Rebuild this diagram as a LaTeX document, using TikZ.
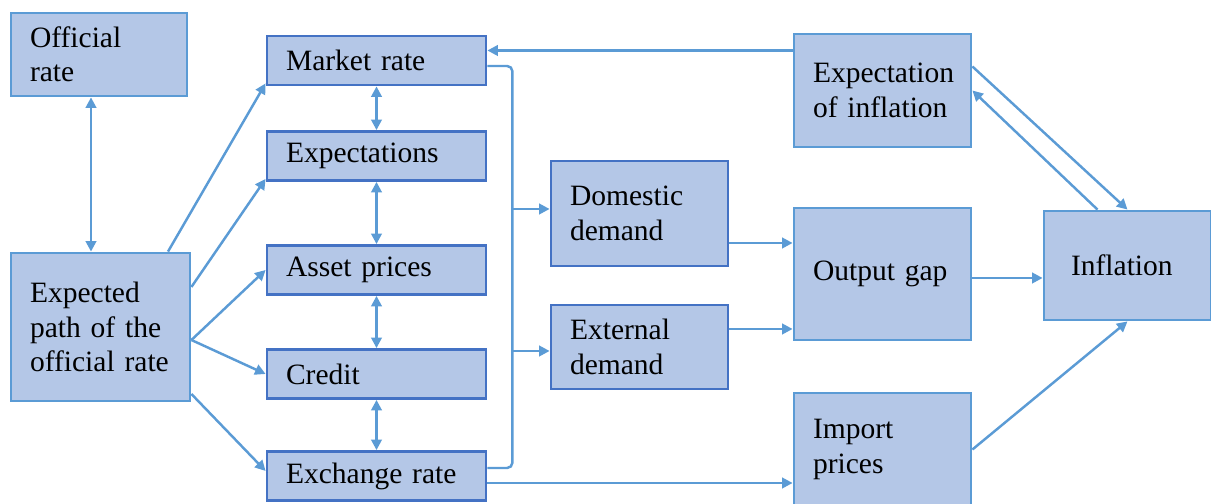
\documentclass[tikz,border=0pt]{standalone}
\usepackage{fontspec}
\setmainfont{Liberation Serif}
\usepackage{tikz}
\usetikzlibrary{arrows.meta,positioning,calc}
\definecolor{mpfill}{RGB}{180,199,231}
\definecolor{mpdark}{RGB}{68,114,196}
\definecolor{mplight}{RGB}{91,155,213}
\tikzstyle{arrow} = [line width=1.4pt,-{Triangle[length=6pt,width=6pt]},color=mplight]
\tikzstyle{dblarrow} = [line width=1.4pt,{Triangle[length=6pt,width=6pt]}-{Triangle[length=6pt,width=6pt]},color=mplight]
\tikzstyle{link} = [line width=1.4pt,color=mplight]
\tikzstyle{chbox} = [rectangle, draw=mplight, fill=mpfill, line width=1.6pt, align=left, inner xsep=0.38cm, inner ysep=0pt, font=\fontsize{16.8}{19.6}\selectfont]
\tikzstyle{chboxd} = [chbox, draw=mpdark]

\begin{document}
\begin{tikzpicture}
\useasboundingbox (0,0) rectangle (24.22,10.08);

% Policy rate
\node[chbox, text width=2.76cm, minimum height=1.66cm] (offrate) at (1.98,8.99) {Official\\rate};
\node[chbox, text width=2.82cm, minimum height=2.96cm] (exppath) at (2.01,3.54) {Expected\\path of the\\official rate};

% Channels
\node[chboxd, text width=3.62cm, minimum height=0.98cm] (market) at (7.53,8.87) {Market rate};
\node[chboxd, text width=3.62cm, minimum height=0.98cm] (expect) at (7.53,6.96) {Expectations};
\node[chboxd, text width=3.62cm, minimum height=0.98cm] (asset) at (7.53,4.68) {Asset prices};
\node[chboxd, text width=3.62cm, minimum height=0.98cm] (credit) at (7.53,2.60) {Credit};
\node[chboxd, text width=3.62cm, minimum height=0.98cm] (exch) at (7.53,0.56) {Exchange rate};

% Demand
\node[chboxd, text width=2.78cm, minimum height=2.10cm] (domestic) at (12.79,5.81) {Domestic\\demand};
\node[chboxd, text width=2.78cm, minimum height=1.68cm] (external) at (12.79,3.14) {External\\demand};

% Prices
\node[chbox, text width=2.78cm, minimum height=2.26cm] (expinf) at (17.65,8.27) {Expectation\\of inflation};
\node[chbox, text width=2.78cm, minimum height=2.64cm] (outgap) at (17.65,4.60) {Output gap};
\node[chbox, text width=2.78cm, minimum height=2.26cm] (import) at (17.65,1.09) {Import\\prices};
\node[chbox, text width=2.26cm, inner xsep=0.54cm, minimum height=2.18cm] (inflation) at (22.55,4.77) {Inflation};

% Expected path to channels
\draw[dblarrow] ([xshift=-0.16cm]offrate.south) -- ([xshift=-0.16cm]offrate.south |- exppath.north);
\draw[arrow] ([xshift=1.35cm]exppath.north) -- ($(market.south west)+(0,0.06)$);
\draw[arrow] ($(exppath.east)+(0,0.8)$) -- ($(expect.south west)+(0,0.06)$);
\draw[arrow] ($(exppath.east)+(0,-0.26)$) -- (asset.west);
\draw[arrow] ($(exppath.east)+(0,-0.26)$) -- (credit.west);
\draw[arrow] ($(exppath.east)+(0,-1.34)$) -- ($(exch.west)+(0,0.1)$);

\draw[dblarrow] (market.south) -- (expect.north);
\draw[dblarrow] (expect.south) -- (asset.north);
\draw[dblarrow] (asset.south) -- (credit.north);
\draw[dblarrow] (credit.south) -- (exch.north);

% Channels to demand
\coordinate (mkout) at ($(market.east)+(0,-0.11)$);
\coordinate (exout) at ($(exch.east)+(0,0.16)$);
\coordinate (bus) at ($(mkout)+(0.5,0)$);
\draw[link, rounded corners=3pt] (mkout) -- (bus) |- (exout);
\draw[arrow] (bus |- {$(domestic.west)+(0,0.09)$}) -- ($(domestic.west)+(0,0.09)$);
\draw[arrow] (bus |- {$(external.west)+(0,-0.08)$}) -- ($(external.west)+(0,-0.08)$);

% Feedback and import prices
\coordinate (mkin) at ($(market.east)+(0,0.2)$);
\draw[arrow] (expinf.west |- mkin) -- (mkin);
\coordinate (exin) at ($(exch.east)+(0,-0.14)$);
\draw[arrow] (exin) -- (exin -| import.west);

% Demand to output gap
\coordinate (domout) at ($(domestic.east)+(0,-0.59)$);
\coordinate (extout) at ($(external.east)+(0,0.36)$);
\draw[arrow] (domout) -- (domout -| outgap.west);
\draw[arrow] (extout) -- (extout -| outgap.west);

% Inflation
\coordinate (gapout) at ($(outgap.east)+(0,-0.08)$);
\draw[arrow] (gapout) -- (gapout -| inflation.west);
\draw[arrow] (import.east) -- (inflation.south);
\draw[arrow] ($(expinf.east)+(0,0.48)$) -- (inflation.north);
\draw[arrow] ($(inflation.north)+(-0.6,0)$) -- (expinf.east);
\end{tikzpicture}
\end{document}
